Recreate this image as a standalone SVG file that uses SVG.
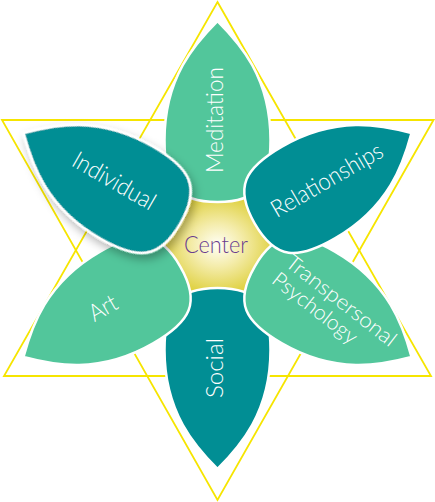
<svg xmlns="http://www.w3.org/2000/svg" width="435" height="502" viewBox="0 0 435 502">
  <defs>
    <radialGradient id="cg" cx="0.5" cy="0.5" r="0.5">
      <stop offset="0" stop-color="#FFFFF6"/>
      <stop offset="0.45" stop-color="#F4ECAA"/>
      <stop offset="1" stop-color="#E0D245"/>
    </radialGradient>
    <filter id="sh" x="-30%" y="-30%" width="160%" height="160%">
      <feDropShadow dx="-3" dy="5" stdDeviation="5" flood-color="#000" flood-opacity="0.3"/>
    </filter>
    <path id="petal" d="M 0 -224 C 22 -202, 53 -168, 53 -105 C 53 -62, 42 -43, 0 -43 C -42 -43, -53 -62, -53 -105 C -53 -168, -22 -202, 0 -224 Z"/>
  </defs>
  <style>
    .tri { fill: none; stroke: #F6E500; stroke-width: 1.8; stroke-linejoin: miter; }
    .teal { fill: #018E94; stroke: #FFFFFF; stroke-width: 2.5; }
    .green { fill: #52C69B; stroke: #FFFFFF; stroke-width: 2.5; }
    .lbl { font-family: Lato, "Liberation Sans", sans-serif; font-weight: 300; fill: #FFFFFF; font-size: 24px; }
    .small { font-size: 21px; }
    .ctr { font-family: Lato, "Liberation Sans", sans-serif; font-weight: 300; fill: #6A3D8F; font-size: 24px; }
  </style>
  <rect width="435" height="502" fill="#FFFFFF"/>
  <g id="star">
    <polygon class="tri" points="217.5,2 431,376 4,376"/>
    <polygon class="tri" points="2,120 433.5,120 217.5,500"/>
  </g>
  <g id="center">
    <polygon points="273.5,245 245.5,196.5 189.5,196.5 161.5,245 189.5,293.5 245.5,293.5" fill="url(#cg)"/>
  </g>
  <g id="social">
    <use href="#petal" class="teal" transform="translate(217.5,245) rotate(180)"/>
    <text class="lbl" text-anchor="middle" textLength="60" lengthAdjust="spacingAndGlyphs" transform="translate(223,368) rotate(-90)">Social</text>
  </g>
  <g id="meditation">
    <use href="#petal" class="green" transform="translate(217.5,245)"/>
    <text class="lbl" text-anchor="middle" textLength="106" lengthAdjust="spacingAndGlyphs" transform="translate(223,120) rotate(-90)">Meditation</text>
  </g>
  <g id="art">
    <use href="#petal" class="green" transform="translate(217.5,245) rotate(240)"/>
    <text class="lbl" text-anchor="middle" textLength="29" lengthAdjust="spacingAndGlyphs" transform="translate(107,315) rotate(-30)">Art</text>
  </g>
  <g id="transpersonal">
    <use href="#petal" class="green" transform="translate(217.5,245) rotate(120)"/>
    <text class="lbl small" transform="translate(284,265) rotate(38)"><tspan x="0" y="0" textLength="134" lengthAdjust="spacingAndGlyphs">Transpersonal</tspan><tspan x="0" y="22" textLength="102" lengthAdjust="spacingAndGlyphs">Psychology</tspan></text>
  </g>
  <g id="relationships">
    <use href="#petal" class="teal" transform="translate(217.5,245) rotate(60)"/>
    <text class="lbl" text-anchor="middle" textLength="125" lengthAdjust="spacingAndGlyphs" transform="translate(331,187) rotate(-30)">Relationships</text>
  </g>
  <g id="individual">
    <use href="#petal" class="teal" filter="url(#sh)" transform="translate(217.5,245) rotate(300)"/>
    <text class="lbl" text-anchor="middle" textLength="92" lengthAdjust="spacingAndGlyphs" transform="translate(110,188) rotate(30)">Individual</text>
  </g>
  <g id="center-label">
    <text class="ctr" x="216" y="253" text-anchor="middle" textLength="64" lengthAdjust="spacingAndGlyphs">Center</text>
  </g>
</svg>
